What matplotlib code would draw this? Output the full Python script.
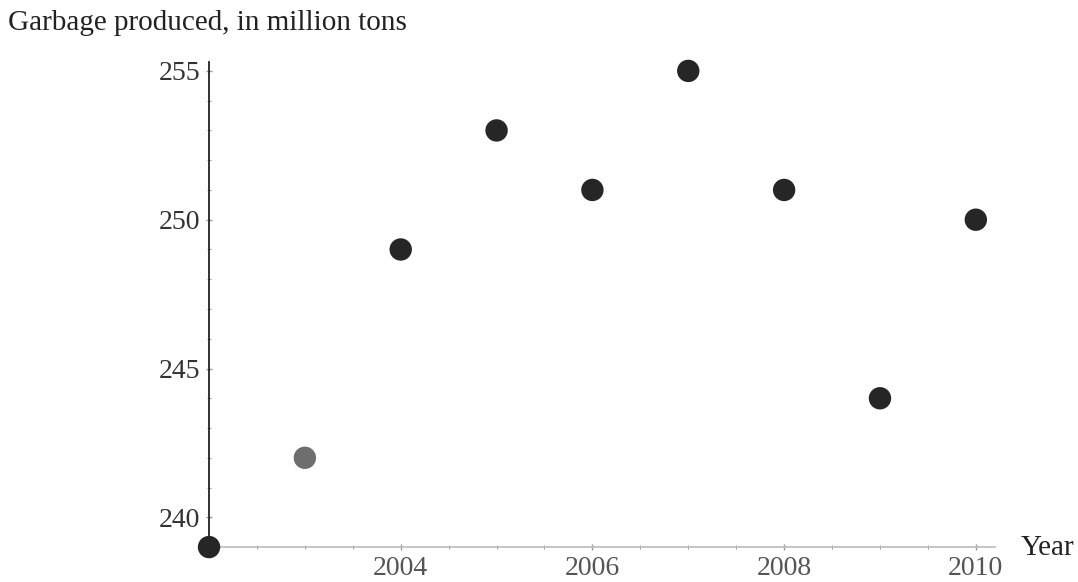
import numpy as np
import matplotlib.pyplot as plt
from matplotlib.ticker import MultipleLocator

plt.rcParams['font.family'] = ['Liberation Serif', 'DejaVu Serif']

years = [2002, 2003, 2004, 2005, 2006, 2007, 2008, 2009, 2010]
garbage = [239, 242, 249, 253, 251, 255, 251, 244, 250]
colors = ['#262626', '#6e6e6e', '#262626', '#262626', '#262626',
          '#262626', '#262626', '#262626', '#262626']

fig = plt.figure(figsize=(10.78, 5.82), dpi=100)
ax = fig.add_axes([0.185, 0.060, 0.738, 0.8335])

ax.scatter(years, garbage, s=260, c=colors, zorder=3, clip_on=False, linewidths=0)

ax.set_xlim(2001.9, 2010.2)
ax.set_ylim(239, 255.3)

# axes crossing like the original plot
ax.spines['left'].set_position(('data', 2002))
ax.spines['right'].set_visible(False)
ax.spines['top'].set_visible(False)
ax.spines['left'].set_color('#222222')
ax.spines['left'].set_linewidth(1.3)
ax.spines['bottom'].set_color('#bbbbbb')
ax.spines['bottom'].set_linewidth(1.2)

ax.xaxis.set_major_locator(MultipleLocator(2))
ax.xaxis.set_minor_locator(MultipleLocator(0.5))
ax.yaxis.set_major_locator(MultipleLocator(5))
ax.yaxis.set_minor_locator(MultipleLocator(1))
ax.set_xticks([2004, 2006, 2008, 2010])
ax.set_xticklabels(['2004', '2006', '2008', '2010'])

ax.tick_params(axis='both', which='major', direction='inout', length=5, width=1)
ax.tick_params(axis='both', which='minor', direction='inout', length=3, width=0.7)
ax.tick_params(axis='x', which='both', color='#999999', labelsize=20, labelcolor='#555555', pad=4)
ax.tick_params(axis='y', which='both', color='#999999', labelsize=20, labelcolor='#333333', pad=4)

fig.text(0.007, 0.960, 'Garbage produced, in million tons', fontsize=21,
         color='#222222', va='center', ha='left')
fig.text(0.947, 0.058, 'Year', fontsize=21, color='#222222', va='center', ha='left')

plt.savefig('out.png', dpi=100)
